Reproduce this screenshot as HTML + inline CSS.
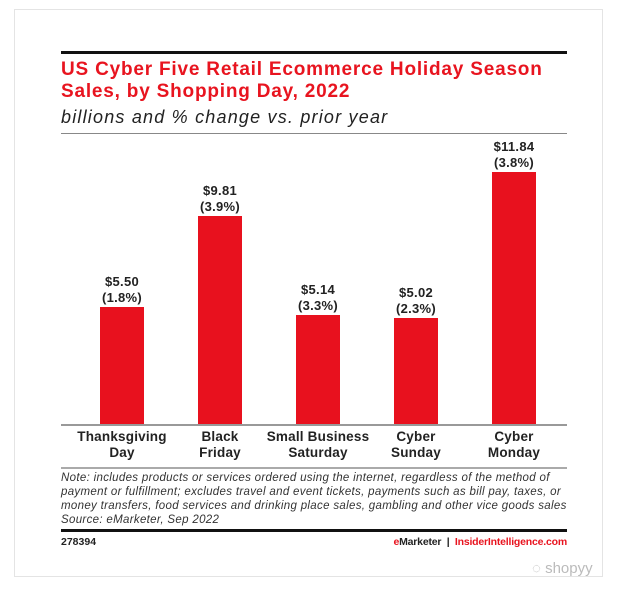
<!DOCTYPE html>
<html><head><style>
body{margin:0;background:#fff;width:635px;height:599px;position:relative;font-family:"Liberation Sans",sans-serif;overflow:hidden}
.card{position:absolute;left:14px;top:9px;width:589px;height:568px;border:1px solid #e4e4e4;box-sizing:border-box}
.a{position:absolute}
.t{color:#e8141f;font-weight:bold;font-size:19px;left:61px;letter-spacing:0.8px;white-space:nowrap}
.bar{position:absolute;background:#e8111e;width:44px}
.v{position:absolute;width:100px;text-align:center;font-weight:bold;font-size:13px;line-height:16px;color:#222;letter-spacing:0.3px}
.l{position:absolute;width:120px;text-align:center;font-weight:bold;font-size:13.5px;line-height:16px;color:#222;top:429px;letter-spacing:0.2px}
.n{left:61px;font-style:italic;font-size:11.5px;line-height:14px;color:#333;top:471px;white-space:nowrap;letter-spacing:0.32px}
</style></head><body>
<div class="card"></div>
<div class="a" style="left:61px;top:51px;width:506px;height:3px;background:#111"></div>
<div class="a t" style="top:59px">US Cyber Five Retail Ecommerce Holiday Season</div>
<div class="a t" style="top:81px">Sales, by Shopping Day, 2022</div>
<div class="a" style="left:61px;top:107px;font-style:italic;font-size:18px;color:#222;letter-spacing:1.2px;white-space:nowrap">billions and % change vs. prior year</div>
<div class="a" style="left:61px;top:133px;width:506px;height:1px;background:#888"></div>

<div class="bar" style="left:100px;top:307px;height:117px"></div>
<div class="bar" style="left:198px;top:216px;height:208px"></div>
<div class="bar" style="left:296px;top:315px;height:109px"></div>
<div class="bar" style="left:394px;top:318px;height:106px"></div>
<div class="bar" style="left:492px;top:172px;height:252px"></div>

<div class="v" style="left:72px;top:274px">$5.50<br>(1.8%)</div>
<div class="v" style="left:170px;top:183px">$9.81<br>(3.9%)</div>
<div class="v" style="left:268px;top:282px">$5.14<br>(3.3%)</div>
<div class="v" style="left:366px;top:285px">$5.02<br>(2.3%)</div>
<div class="v" style="left:464px;top:139px">$11.84<br>(3.8%)</div>

<div class="a" style="left:61px;top:424px;width:506px;height:2px;background:#999"></div>
<div class="l" style="left:62px">Thanksgiving<br>Day</div>
<div class="l" style="left:160px">Black<br>Friday</div>
<div class="l" style="left:258px">Small Business<br>Saturday</div>
<div class="l" style="left:356px">Cyber<br>Sunday</div>
<div class="l" style="left:454px">Cyber<br>Monday</div>
<div class="a" style="left:61px;top:467px;width:506px;height:2px;background:#aaa"></div>
<div class="a n">Note: includes products or services ordered using the internet, regardless of the method of<br>payment or fulfillment; excludes travel and event tickets, payments such as bill pay, taxes, or<br>money transfers, food services and drinking place sales, gambling and other vice goods sales<br>Source: eMarketer, Sep 2022</div>
<div class="a" style="left:61px;top:529px;width:506px;height:3px;background:#111"></div>
<div class="a" style="left:61px;top:536px;font-size:10.5px;font-weight:bold;color:#222">278394</div>
<div class="a" style="right:68px;top:536px;font-size:10.5px;font-weight:bold;color:#222;letter-spacing:-0.2px"><span style="color:#e8141f">e</span>Marketer &nbsp;|&nbsp; <span style="color:#e8141f">InsiderIntelligence.com</span></div>
<div class="a" style="left:532px;top:560px;font-size:15px;color:#bbb">◌ shopyy</div>
</body></html>
